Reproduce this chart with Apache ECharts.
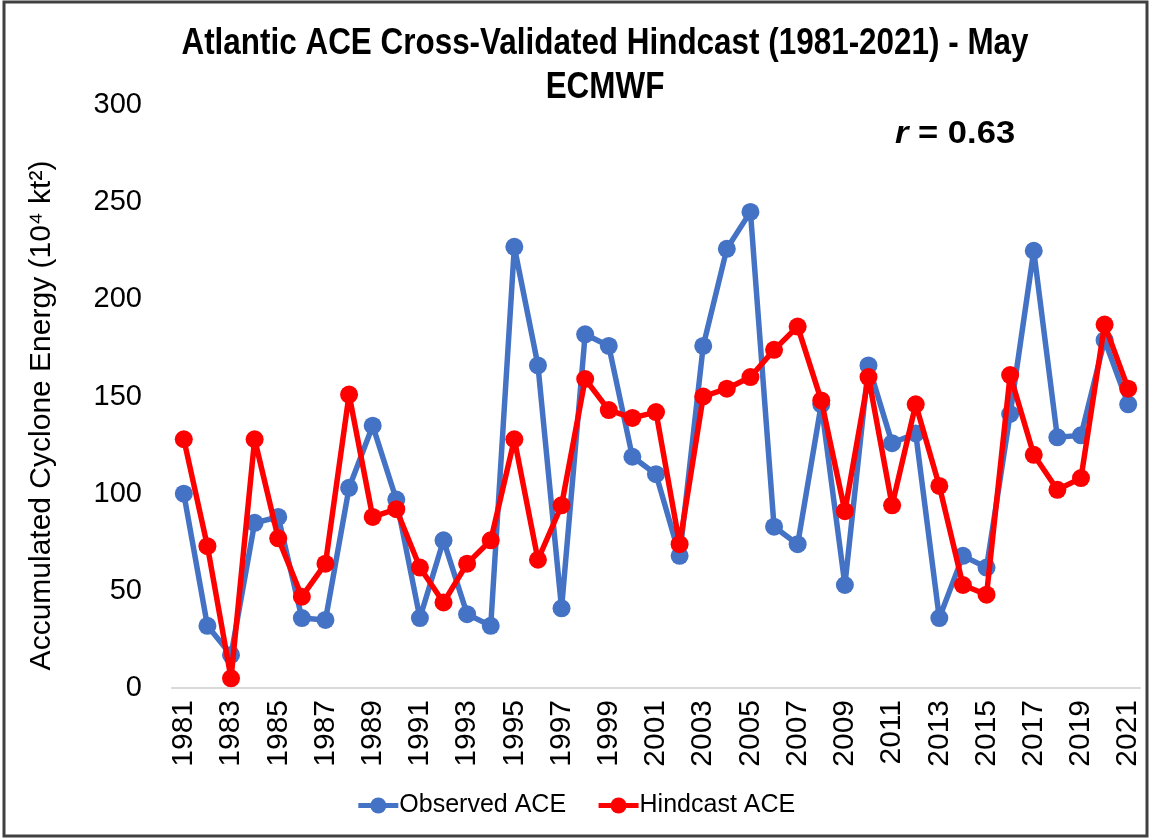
<!DOCTYPE html>
<html>
<head>
<meta charset="utf-8">
<script src="https://cdn.jsdelivr.net/npm/echarts@6/dist/echarts.min.js"></script>
<style>
  html, body { margin: 0; padding: 0; background: #fff; }
  #chart { width: 1151px; height: 839px; }
</style>
</head>
<body>
<div id="chart"></div>
<script>
const years = ['1981', '1982', '1983', '1984', '1985', '1986', '1987', '1988', '1989', '1990',
  '1991', '1992', '1993', '1994', '1995', '1996', '1997', '1998', '1999', '2000',
  '2001', '2002', '2003', '2004', '2005', '2006', '2007', '2008', '2009', '2010',
  '2011', '2012', '2013', '2014', '2015', '2016', '2017', '2018', '2019', '2020', '2021']

const observedAce = [100, 32, 17, 85, 88, 36, 35, 103, 135, 97,
  36, 76, 38, 32, 227, 166, 41, 182, 176, 119,
  110, 68, 176, 226, 245, 83, 74, 146, 53, 166,
  126, 131, 36, 68, 62, 141, 225, 129, 130, 179, 146]

const hindcastAce = [128, 73, 5, 128, 77, 47, 64, 151, 88, 92,
  62, 44, 64, 76, 128, 66, 94, 159, 143, 139,
  142, 74, 150, 154, 160, 174, 186, 148, 91, 160,
  94, 146, 104, 53, 48, 161, 120, 102, 108, 187, 154]

const yTicks = [0, 50, 100, 150, 200, 250, 300]
const titleLines = ['Atlantic ACE Cross-Validated Hindcast (1981-2021) - May', 'ECMWF']
const correlation = '0.63'

const BLUE = '#4472C4'
const RED = '#FF0000'
const FONT = "'Liberation Sans', Arial, sans-serif"

const chart = echarts.init(document.getElementById('chart'))

// title is drawn as graphic text so it can be squeezed a bit (original used a narrow font)
function titleText(text, y) {
  return {
    type: 'text',
    x: 605,
    y: y,
    scaleX: 0.873,
    silent: true,
    style: {
      text: text,
      textAlign: 'center',
      textVerticalAlign: 'middle',
      fontFamily: FONT,
      fontWeight: 'bold',
      fontSize: 36,
      fill: '#000'
    }
  }
}

chart.setOption({
  backgroundColor: '#fff',
  animation: false,
  graphic: [
    {
      type: 'rect',
      shape: { x: 4, y: 2, width: 1143, height: 834 },
      style: { fill: 'none', stroke: '#404040', lineWidth: 3 },
      silent: true
    },
    titleText(titleLines[0], 44),
    titleText(titleLines[1], 88),
    {
      type: 'text',
      x: 895,
      y: 134,
      scaleX: 1.08,
      silent: true,
      style: {
        text: '{i|r} = ' + correlation,
        textVerticalAlign: 'middle',
        fontFamily: FONT,
        fontWeight: 'bold',
        fontSize: 32,
        fill: '#000',
        rich: {
          i: { fontStyle: 'italic', fontWeight: 'bold', fontSize: 32, fontFamily: FONT }
        }
      }
    }
  ],
  legend: {
    bottom: 16,
    left: 'center',
    itemGap: 30,
    itemWidth: 40,
    itemHeight: 20,
    lineStyle: { width: 5 },
    textStyle: { fontFamily: FONT, fontSize: 25, color: '#000', padding: [0, 0, 0, -4] },
    data: ['Observed ACE', 'Hindcast ACE']
  },
  grid: {
    left: 172,
    right: 11,
    top: 105,
    bottom: 151,
    containLabel: false
  },
  xAxis: {
    type: 'category',
    data: years,
    boundaryGap: true,
    axisLine: { lineStyle: { color: '#d9d9d9', width: 2 } },
    axisTick: { show: false },
    axisLabel: {
      interval: 1,
      rotate: 90,
      margin: 12,
      fontFamily: FONT,
      fontSize: 30,
      color: '#000'
    }
  },
  yAxis: {
    type: 'value',
    min: yTicks[0],
    max: yTicks[yTicks.length - 1],
    interval: yTicks[1] - yTicks[0],
    name: 'Accumulated Cyclone Energy (10\u2074 kt\u00b2)',
    nameLocation: 'middle',
    nameGap: 115,
    nameTextStyle: { fontFamily: FONT, fontSize: 30, color: '#000', padding: [0, 38, 0, 0] },
    axisLine: { show: false },
    axisTick: { show: false },
    splitLine: { show: false },
    axisLabel: { fontFamily: FONT, fontSize: 29, color: '#000', margin: 30 }
  },
  series: [
    {
      name: 'Observed ACE',
      type: 'line',
      data: observedAce,
      symbol: 'circle',
      symbolSize: 18,
      showAllSymbol: true,
      itemStyle: { color: BLUE },
      lineStyle: { color: BLUE, width: 5.5 },
      z: 2
    },
    {
      name: 'Hindcast ACE',
      type: 'line',
      data: hindcastAce,
      symbol: 'circle',
      symbolSize: 18,
      showAllSymbol: true,
      itemStyle: { color: RED },
      lineStyle: { color: RED, width: 5.5 },
      z: 3
    }
  ]
})
</script>
</body>
</html>
